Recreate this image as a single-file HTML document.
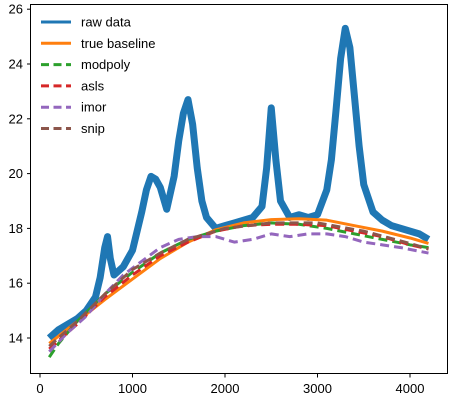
<!DOCTYPE html>
<html><head><meta charset="utf-8"><style>
body{margin:0;background:#fff}
svg text{font-family:"Liberation Sans","DejaVu Sans",sans-serif;font-size:13px;fill:#000}
</style></head><body>
<svg width="450" height="400" xmlns="http://www.w3.org/2000/svg">
<g id="plot"></g>
<rect x="30.5" y="4.5" width="417" height="369" fill="none" stroke="#000" stroke-width="1"/>
<g id="ticks"></g>
<g id="legend"></g>
</svg>
<script>
const rawX=[100,200,300,400,500,600,650,700,730,760,800,900,1000,1100,1150,1200,1250,1300,1370,1450,1500,1550,1600,1650,1700,1750,1800,1900,2000,2100,2200,2300,2400,2450,2500,2550,2600,2700,2800,2900,3000,3100,3150,3200,3250,3300,3350,3400,3450,3500,3600,3700,3800,3900,4000,4100,4200];
const rawY=[14.0,14.3,14.5,14.7,15.0,15.5,16.2,17.3,17.7,16.9,16.3,16.6,17.2,18.6,19.4,19.9,19.8,19.5,18.7,19.9,21.2,22.2,22.7,21.8,20.2,19.0,18.4,18.0,18.1,18.2,18.3,18.4,18.8,20.2,22.4,20.5,19.0,18.4,18.5,18.4,18.5,19.4,20.5,22.3,24.2,25.3,24.6,22.8,21.0,19.6,18.6,18.3,18.1,18.0,17.9,17.8,17.6];
const trueX=[100,400,700,1000,1300,1600,1900,2200,2500,2800,3100,3400,3700,4000,4200];
const trueY=[13.8,14.6,15.4,16.15,16.9,17.5,17.95,18.2,18.32,18.35,18.3,18.1,17.9,17.65,17.45];
const modX=[100,200,400,700,1000,1300,1600,1900,2200,2500,2800,3100,3400,3700,4000,4200];
const modY=[13.3,13.8,14.6,15.6,16.4,17.1,17.6,17.9,18.1,18.2,18.15,18.0,17.8,17.6,17.4,17.3];
const aslsX=[100,400,700,1000,1300,1600,1900,2200,2500,2800,3100,3400,3700,4000,4200];
const aslsY=[13.6,14.5,15.5,16.3,17.0,17.5,17.9,18.1,18.15,18.15,18.1,17.9,17.7,17.4,17.25];
const imorX=[100,300,500,700,900,1100,1300,1500,1700,1900,2100,2300,2500,2700,2900,3100,3300,3500,3700,3900,4200];
const imorY=[13.5,14.2,14.8,15.6,16.3,16.8,17.3,17.6,17.7,17.7,17.5,17.6,17.8,17.7,17.8,17.8,17.7,17.5,17.4,17.3,17.1];
const snipX=[100,400,700,1000,1300,1600,2000,2500,3000,3500,4000,4200];
const snipY=[13.7,14.6,15.6,16.5,17.1,17.6,18.0,18.2,18.2,17.9,17.45,17.25];
const xTicks=[0,1000,2000,3000,4000];
const yTicks=[14,16,18,20,22,24,26];
const NS="http://www.w3.org/2000/svg";
const sx=v=>40+v*0.0925;
const sy=v=>338-(v-14)*27.4;
function line(xs,ys,color,w,dash,name){
  const p=document.createElementNS(NS,'polyline');
  p.setAttribute('points',xs.map((x,i)=>sx(x)+','+sy(ys[i])).join(' '));
  p.setAttribute('fill','none');p.setAttribute('stroke',color);p.setAttribute('stroke-width',w);
  p.setAttribute('stroke-linejoin','round');
  if(dash)p.setAttribute('stroke-dasharray',dash);
  
  
  document.getElementById('plot').appendChild(p);
}
line(rawX,rawY,'#1f77b4',7,null,'raw-data-line');
line(trueX,trueY,'#ff7f0e',3,null,'true-baseline-line');
line(modX,modY,'#2ca02c',3,'9,5','modpoly-line');
line(aslsX,aslsY,'#d62728',3,'9,5','asls-line');
line(imorX,imorY,'#9467bd',3,'9,5','imor-line');
line(snipX,snipY,'#8c564b',3,'9,5','snip-line');
const tg=document.getElementById('ticks');
xTicks.forEach(t=>{
  const l=document.createElementNS(NS,'line');
  l.setAttribute('x1',sx(t));l.setAttribute('x2',sx(t));l.setAttribute('y1',374);l.setAttribute('y2',377.5);l.setAttribute('stroke','#000');
  
  
  tg.appendChild(l);
  const s=document.createElementNS(NS,'text');
  s.setAttribute('x',sx(t));s.setAttribute('y',393);s.setAttribute('text-anchor','middle');s.textContent=t;
  
  
  tg.appendChild(s);
});
yTicks.forEach(t=>{
  const l=document.createElementNS(NS,'line');
  l.setAttribute('x1',27);l.setAttribute('x2',30.5);l.setAttribute('y1',sy(t));l.setAttribute('y2',sy(t));l.setAttribute('stroke','#000');
  
  
  tg.appendChild(l);
  const s=document.createElementNS(NS,'text');
  s.setAttribute('x',23);s.setAttribute('y',sy(t)+4.5);s.setAttribute('text-anchor','end');s.textContent=t;
  
  
  tg.appendChild(s);
});
const legNames=['raw data','true baseline','modpoly','asls','imor','snip'];
const legColors=['#1f77b4','#ff7f0e','#2ca02c','#d62728','#9467bd','#8c564b'];
const lg=document.getElementById('legend');
legNames.forEach((n,i)=>{
  const y=22+i*21.3;
  const l=document.createElementNS(NS,'line');
  l.setAttribute('x1',41);l.setAttribute('x2',71);l.setAttribute('y1',y);l.setAttribute('y2',y);
  l.setAttribute('stroke',legColors[i]);l.setAttribute('stroke-width',3);
  if(i>1)l.setAttribute('stroke-dasharray','8,4.5');
  
  
  lg.appendChild(l);
  const s=document.createElementNS(NS,'text');
  s.setAttribute('x',81);s.setAttribute('y',y+4.5);s.textContent=n;
  
  
  lg.appendChild(s);
});
</script>
</body></html>
